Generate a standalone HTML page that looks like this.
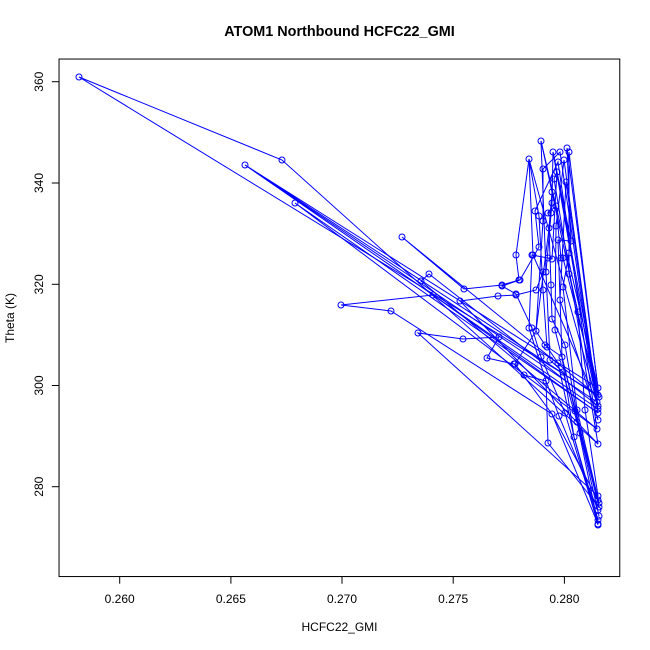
<!DOCTYPE html>
<html><head><meta charset="utf-8"><style>
html,body{margin:0;padding:0;background:#fff;width:650px;height:650px;overflow:hidden}
svg{display:block}
text{font-family:"Liberation Sans",Arial,sans-serif;fill:#000}
</style></head><body>
<svg width="650" height="650" viewBox="0 0 650 650" xmlns="http://www.w3.org/2000/svg">
<rect x="0" y="0" width="650" height="650" fill="#fff"/>
<text x="339.5" y="36" font-size="14.4" font-weight="bold" text-anchor="middle">ATOM1 Northbound HCFC22_GMI</text>
<text x="339.5" y="631" font-size="12" text-anchor="middle">HCFC22_GMI</text>
<text transform="translate(14,318) rotate(-90)" font-size="12" text-anchor="middle">Theta (K)</text>
<g stroke="#000" stroke-width="1" fill="none">
<rect x="59.04" y="59.04" width="560.72" height="517.52"/>
<line x1="119.7" y1="576.5" x2="564.4" y2="576.5"/>
<line x1="119.7" y1="576.5" x2="119.7" y2="583.7"/>
<line x1="230.9" y1="576.5" x2="230.9" y2="583.7"/>
<line x1="342.0" y1="576.5" x2="342.0" y2="583.7"/>
<line x1="453.2" y1="576.5" x2="453.2" y2="583.7"/>
<line x1="564.4" y1="576.5" x2="564.4" y2="583.7"/>
<line x1="59.04" y1="81.7" x2="59.04" y2="486.7"/>
<line x1="51.8" y1="486.7" x2="59.04" y2="486.7"/>
<line x1="51.8" y1="385.5" x2="59.04" y2="385.5"/>
<line x1="51.8" y1="284.3" x2="59.04" y2="284.3"/>
<line x1="51.8" y1="183.0" x2="59.04" y2="183.0"/>
<line x1="51.8" y1="81.7" x2="59.04" y2="81.7"/>
</g>
<g font-size="12" text-anchor="middle">
<text x="119.7" y="603">0.260</text>
<text x="230.9" y="603">0.265</text>
<text x="342.0" y="603">0.270</text>
<text x="453.2" y="603">0.275</text>
<text x="564.4" y="603">0.280</text>
<text transform="translate(43,486.7) rotate(-90)">280</text>
<text transform="translate(43,385.5) rotate(-90)">300</text>
<text transform="translate(43,284.3) rotate(-90)">320</text>
<text transform="translate(43,183.0) rotate(-90)">340</text>
<text transform="translate(43,81.7) rotate(-90)">360</text>
</g>
<g stroke="#0000ff" stroke-width="1" fill="none">
<polyline points="598,395 79,77 282,160 598,444"/>
<polyline points="598,388 245,165 599,397"/>
<polyline points="597,402 245,165 598,409"/>
<polyline points="598,413 295,203 597,429"/>
<polyline points="599,397 402,237 464,289 502,285 519,280 516,255 529,159 597,402"/>
<polyline points="598,406 429,274 421,281 597,429"/>
<polyline points="598,413 433,295 341,305 391,311 552,414 598,524"/>
<polyline points="598,496 418,333 463,339 499,337 487,358 514,364 524,375 546,381 548,443 599,507"/>
<polyline points="598,444 460,301 498,296 516,295 536,290 543,272 546,272 541,141 598,388"/>
<polyline points="598,524 577,422 563,372 550,360 546,272 552,203 553,152 598,395"/>
<polyline points="598,525 574,437 558,363 547,347 543,290 539,216 529,159 533,255 597,402"/>
<polyline points="599,516 580,433 565,345 552,319 551,285 549,228 552,192 541,141 598,406"/>
<polyline points="599,507 575,411 562,357 545,345 536,331 543,221 543,169 560,152 598,413"/>
<polyline points="599,503 577,410 563,287 569,253 571,241 567,148 598,388"/>
<polyline points="598,496 585,410 578,312 569,274 569,152 599,397"/>
<polyline points="598,524 565,413 541,357 532,328 516,294 502,286 520,280 539,247 535,211 558,162 597,429"/>
<polyline points="598,510 559,416 546,381 529,328 532,255 548,258 552,259 557,172 554,179 598,444"/>
<polyline points="598,500 552,414 515,364 536,331 551,213 548,213 556,206 561,258 563,258 598,395"/>
<polyline points="598,520 574,437 562,357 558,240 571,241 553,152 597,402"/>
<polyline points="598,409 566,182 560,300 598,420"/>
<polyline points="599,503 555,330 556,226 564,160 598,406"/>
</g>
<g stroke="#0000ff" stroke-width="1" fill="none">
<circle cx="79" cy="77" r="3"/><circle cx="282" cy="160" r="3"/><circle cx="245" cy="165" r="3"/><circle cx="295" cy="203" r="3"/>
<circle cx="598" cy="395" r="3"/><circle cx="598" cy="444" r="3"/><circle cx="598" cy="388" r="3"/><circle cx="599" cy="397" r="3"/>
<circle cx="597" cy="402" r="3"/><circle cx="598" cy="409" r="3"/><circle cx="598" cy="406" r="3"/><circle cx="598" cy="413" r="3"/>
<circle cx="597" cy="429" r="3"/><circle cx="598" cy="420" r="3"/>
<circle cx="402" cy="237" r="3"/><circle cx="464" cy="289" r="3"/><circle cx="502" cy="285" r="3"/><circle cx="519" cy="280" r="3"/>
<circle cx="516" cy="255" r="3"/><circle cx="529" cy="159" r="3"/><circle cx="429" cy="274" r="3"/><circle cx="421" cy="281" r="3"/>
<circle cx="433" cy="295" r="3"/><circle cx="341" cy="305" r="3"/><circle cx="391" cy="311" r="3"/><circle cx="552" cy="414" r="3"/>
<circle cx="598" cy="524" r="3"/><circle cx="598" cy="496" r="3"/><circle cx="418" cy="333" r="3"/><circle cx="463" cy="339" r="3"/>
<circle cx="499" cy="337" r="3"/><circle cx="487" cy="358" r="3"/><circle cx="514" cy="364" r="3"/><circle cx="524" cy="375" r="3"/>
<circle cx="546" cy="381" r="3"/><circle cx="548" cy="443" r="3"/><circle cx="599" cy="507" r="3"/><circle cx="599" cy="516" r="3"/>
<circle cx="460" cy="301" r="3"/><circle cx="498" cy="296" r="3"/><circle cx="516" cy="295" r="3"/><circle cx="536" cy="290" r="3"/>
<circle cx="543" cy="272" r="3"/><circle cx="546" cy="272" r="3"/><circle cx="541" cy="141" r="3"/>
<circle cx="577" cy="422" r="3"/><circle cx="563" cy="372" r="3"/><circle cx="550" cy="360" r="3"/><circle cx="552" cy="203" r="3"/>
<circle cx="553" cy="152" r="3"/><circle cx="598" cy="525" r="3"/><circle cx="574" cy="437" r="3"/><circle cx="558" cy="363" r="3"/>
<circle cx="547" cy="347" r="3"/><circle cx="543" cy="290" r="3"/><circle cx="539" cy="216" r="3"/><circle cx="533" cy="255" r="3"/>
<circle cx="580" cy="433" r="3"/><circle cx="565" cy="345" r="3"/><circle cx="552" cy="319" r="3"/><circle cx="551" cy="285" r="3"/>
<circle cx="549" cy="228" r="3"/><circle cx="552" cy="192" r="3"/><circle cx="575" cy="411" r="3"/><circle cx="562" cy="357" r="3"/>
<circle cx="545" cy="345" r="3"/><circle cx="536" cy="331" r="3"/><circle cx="543" cy="221" r="3"/><circle cx="543" cy="169" r="3"/>
<circle cx="560" cy="152" r="3"/><circle cx="599" cy="503" r="3"/><circle cx="577" cy="410" r="3"/><circle cx="563" cy="287" r="3"/>
<circle cx="569" cy="253" r="3"/><circle cx="571" cy="241" r="3"/><circle cx="567" cy="148" r="3"/><circle cx="585" cy="410" r="3"/>
<circle cx="578" cy="312" r="3"/><circle cx="569" cy="274" r="3"/><circle cx="569" cy="152" r="3"/><circle cx="565" cy="413" r="3"/>
<circle cx="541" cy="357" r="3"/><circle cx="532" cy="328" r="3"/><circle cx="516" cy="294" r="3"/><circle cx="502" cy="286" r="3"/>
<circle cx="520" cy="280" r="3"/><circle cx="539" cy="247" r="3"/><circle cx="535" cy="211" r="3"/><circle cx="558" cy="162" r="3"/>
<circle cx="598" cy="510" r="3"/><circle cx="559" cy="416" r="3"/><circle cx="529" cy="328" r="3"/><circle cx="532" cy="255" r="3"/>
<circle cx="548" cy="258" r="3"/><circle cx="552" cy="259" r="3"/><circle cx="557" cy="172" r="3"/><circle cx="554" cy="179" r="3"/>
<circle cx="598" cy="500" r="3"/><circle cx="515" cy="364" r="3"/><circle cx="551" cy="213" r="3"/><circle cx="548" cy="213" r="3"/>
<circle cx="556" cy="206" r="3"/><circle cx="561" cy="258" r="3"/><circle cx="563" cy="258" r="3"/><circle cx="598" cy="520" r="3"/>
<circle cx="558" cy="240" r="3"/><circle cx="566" cy="182" r="3"/><circle cx="560" cy="300" r="3"/><circle cx="555" cy="330" r="3"/>
<circle cx="556" cy="226" r="3"/><circle cx="564" cy="160" r="3"/>
</g>
</svg>
</body></html>
